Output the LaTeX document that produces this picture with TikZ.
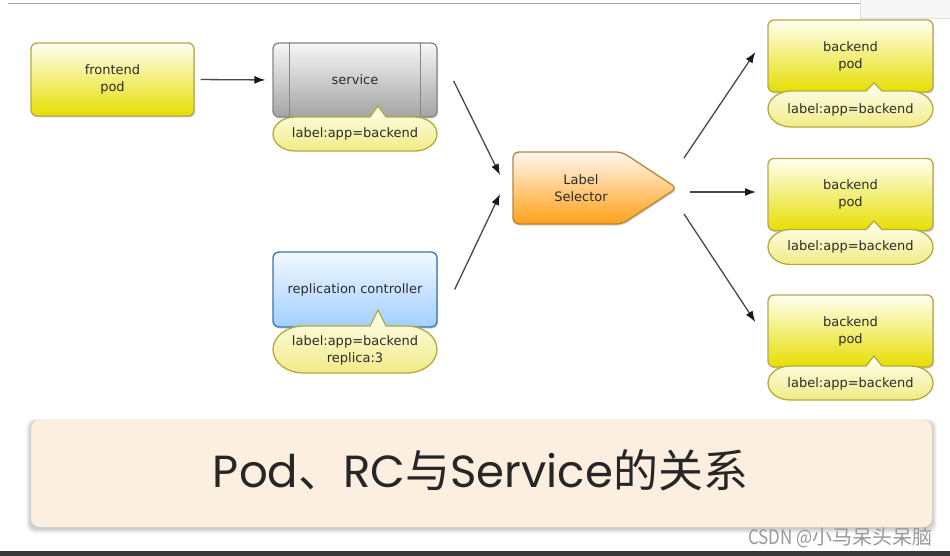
\documentclass[tikz,border=0pt]{standalone}
\usepackage{fontspec}
\usetikzlibrary{arrows.meta,shadows,calc}
\newfontfamily\dvfont{DejaVu Sans}
\newfontfamily\cjkfont{Noto Sans CJK SC}
\newfontfamily\popfont{Poppins}
\definecolor{txt}{HTML}{2C2C2C}
\definecolor{podtop}{HTML}{FFFFF2}
\definecolor{podbot}{HTML}{E6DE00}
\definecolor{podborder}{HTML}{B7A84A}
\definecolor{svctop}{HTML}{F6F6F6}
\definecolor{svcbot}{HTML}{A4A4A4}
\definecolor{svcborder}{HTML}{878787}
\definecolor{rctop}{HTML}{F2F9FF}
\definecolor{rcbot}{HTML}{A2CFFF}
\definecolor{rcborder}{HTML}{3E73A6}
\definecolor{seltop}{HTML}{FFF7EE}
\definecolor{selbot}{HTML}{FFA118}
\definecolor{selborder}{HTML}{B8873F}
\definecolor{bubtop}{HTML}{FFFFF2}
\definecolor{bubbot}{HTML}{F1EB86}
\definecolor{bubborder}{HTML}{B3AC3C}
\definecolor{panelfill}{HTML}{FCEFDF}
\definecolor{arrowgray}{HTML}{484848}
\tikzset{
  boxbase/.style={rounded corners=6pt, line width=1.3pt, align=center, text=txt,
    font=\dvfont\fontsize{13}{17}\selectfont,
    drop shadow={shadow xshift=1pt, shadow yshift=-1.5pt, opacity=0.18, fill=black}},
  podbox/.style={boxbase, draw=podborder, top color=podtop, bottom color=podbot,
    minimum width=163pt, minimum height=73pt},
  svcbox/.style={boxbase, draw=svcborder, top color=svctop, bottom color=svcbot,
    minimum width=164pt, minimum height=74pt},
  rcbox/.style={boxbase, draw=rcborder, top color=rctop, bottom color=rcbot,
    minimum width=164pt, minimum height=75pt},
  bubblestyle/.style={draw=bubborder, line width=1.3pt, top color=bubtop, bottom color=bubbot},
  lbltext/.style={align=center, text=txt, inner sep=0pt,
    font=\dvfont\fontsize{13}{17}\selectfont},
  arr/.style={draw=arrowgray, line width=1.3pt, -{Latex[length=11pt,width=8pt,color=black!90]}},
}
\newcommand\lblbubble[6]{%
  \pgfmathsetmacro\bR{(#4-#3)/2}%
  \pgfmathsetmacro\bX{1.3*\bR}%
  \path[bubblestyle] (#1+\bX,#3) -- (#5-8,#3) -- (#5,#6) -- (#5+8,#3) -- (#2-\bX,#3)
    arc[start angle=90, end angle=-90, x radius=\bX pt, y radius=\bR pt]
    -- (#1+\bX,#4)
    arc[start angle=270, end angle=90, x radius=\bX pt, y radius=\bR pt] -- cycle;}
\begin{document}
\begin{tikzpicture}[x=1pt,y=-1pt]
\useasboundingbox (0,0) rectangle (950,556);
\fill[white] (0,0) rectangle (950,556);
% top decorations
\draw[black!35, line width=1pt] (8,3.5) -- (860,3.5);
\fill[black!3] (860,0) rectangle (950,18);
\draw[black!12, line width=0.8pt] (860,0) -- (860,18) -- (950,18);
% bottom bar
\fill[black!78] (0,551) rectangle (950,556);

% main boxes
\node[podbox] (front) at (112.5,79.5) {frontend\\pod};
\node[svcbox] (svc) at (355,80) {service};
\draw[svcborder, line width=1.2pt] ($(svc.north west)+(17,0)$) -- ($(svc.south west)+(17,0)$);
\draw[svcborder, line width=1.2pt] ($(svc.north east)+(-17,0)$) -- ($(svc.south east)+(-17,0)$);
\node[rcbox] (rc) at (355,289.5) {replication controller};

% label selector
\path[draw=selborder, line width=1.3pt, top color=seltop, bottom color=selbot, rounded corners=6pt,
  drop shadow={shadow xshift=1pt, shadow yshift=-1.5pt, opacity=0.18, fill=black}]
  (513,152) -- (622,152) -- (677,188) -- (622,224) -- (513,224) -- cycle;
\node[lbltext] (sel) at (581,188.5) {Label\\Selector};

% backend pods
\node[podbox, minimum width=165pt, minimum height=72pt] (bp1) at (850.5,56) {backend\\pod};
\node[podbox, minimum width=165pt, minimum height=72pt] (bp2) at (850.5,194.5) {backend\\pod};
\node[podbox, minimum width=165pt, minimum height=72pt] (bp3) at (850.5,331) {backend\\pod};

% label bubbles
\lblbubble{273}{437}{117}{151}{378}{106}
\node[lbltext] (svclbl) at (355,134) {label:app=backend};
\lblbubble{273}{437}{326}{373}{378}{310}
\node[lbltext] (rclbl) at (355,350.5) {label:app=backend\\replica:3};
\lblbubble{768}{933}{91}{127}{874}{83}
\node[lbltext] (bp1lbl) at (850.5,110) {label:app=backend};
\lblbubble{768}{933}{229.5}{264.5}{874}{221}
\node[lbltext] (bp2lbl) at (850.5,247) {label:app=backend};
\lblbubble{768}{933}{366}{400}{874}{356}
\node[lbltext] (bp3lbl) at (850.5,384) {label:app=backend};

% connectors
\draw[arr, shorten <=6pt, shorten >=7pt] (front.east) -- (svc.west);
\coordinate (a1s) at ($(svc.east)+(16,1)$);
\coordinate (a1e) at (500,175);
\draw[arr] (a1s) -- (a1e);
\coordinate (a2s) at ($(rc.east)+(17,0)$);
\coordinate (a2e) at (500,194);
\draw[arr] (a2s) -- (a2e);
\coordinate (b1s) at (684,158);
\coordinate (b2s) at (690,192);
\coordinate (b3s) at (684,214);
\coordinate (b1e) at ($(bp1.west)+(-12,-4)$);
\coordinate (b2e) at (756,192);
\coordinate (b3e) at ($(bp3.west)+(-12,-9)$);
\draw[arr] (b1s) -- (b1e);
\draw[arr] (b2s) -- (b2e);
\draw[arr] (b3s) -- (b3e);

% bottom panel with soft shadow
\foreach \i in {1,...,6}{
  \fill[black, opacity=0.035, rounded corners=8pt] (31-\i*0.8,420-\i*0.5+2) rectangle (932+\i*0.8,527+\i*0.9+1);
}
\node[fill=panelfill, draw=panelfill!90!black!40!panelfill, rounded corners=9pt, minimum width=901pt, minimum height=107pt, inner sep=0pt] (panel) at (481.5,473.5) {};
\node[anchor=base, text=black!85, inner sep=0pt] (title) at (480.5,487)
  {\fontsize{45}{50}\selectfont\popfont Pod\cjkfont 、\popfont RC\cjkfont 与\popfont Service\cjkfont 的关系};

% watermark
\node[anchor=base east, text=black!40, inner sep=0pt] (wm) at (933,544)
  {\fontsize{20}{22}\selectfont\scalebox{0.85}[1]{\cjkfont CSDN @}\cjkfont 小马呆头呆脑};
\end{tikzpicture}
\end{document}
